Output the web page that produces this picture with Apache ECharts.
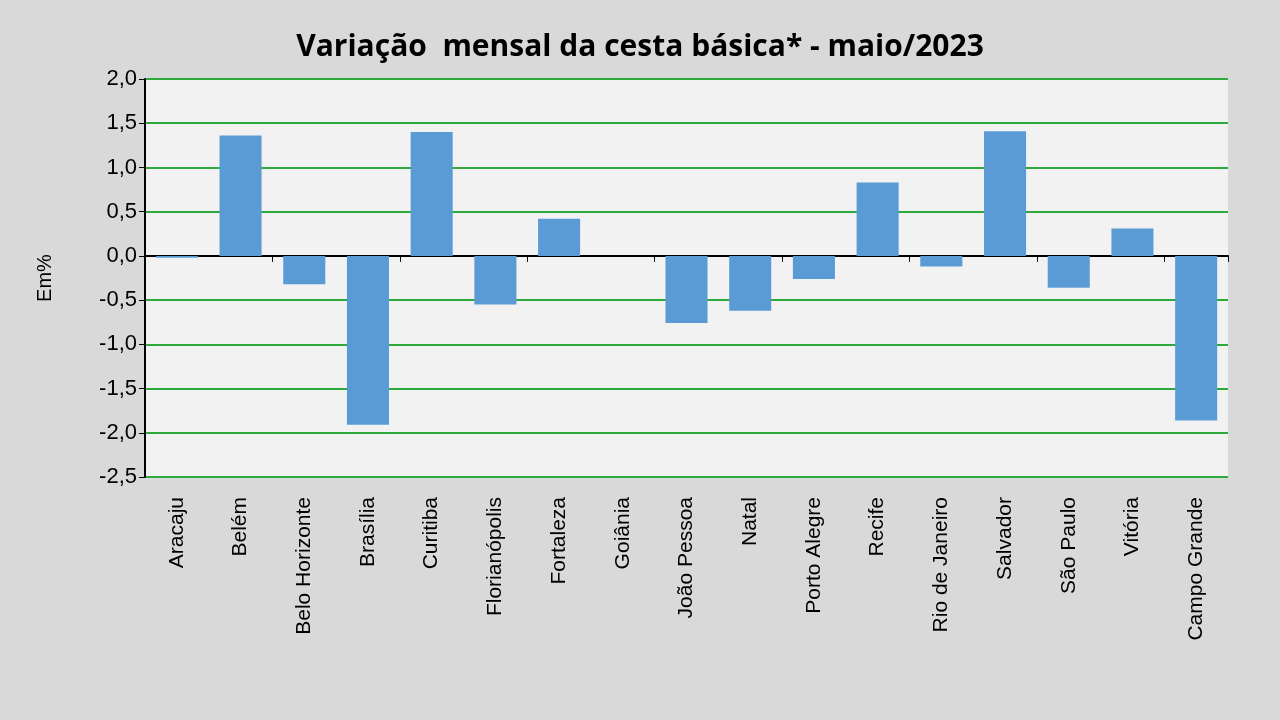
<!DOCTYPE html>
<html><head><meta charset="utf-8">
<script src="https://cdn.jsdelivr.net/npm/echarts@6/dist/echarts.min.js"></script>
<style>html,body{margin:0;background:#d9d9d9}#c{width:1280px;height:720px}</style>
</head><body><div id="c"></div>
<script>
const categories=["Aracaju","Belém","Belo Horizonte","Brasília","Curitiba","Florianópolis","Fortaleza","Goiânia","João Pessoa","Natal","Porto Alegre","Recife","Rio de Janeiro","Salvador","São Paulo","Vitória","Campo Grande"];
const values=[-0.02,1.36,-0.32,-1.91,1.40,-0.55,0.42,0,-0.76,-0.62,-0.26,0.83,-0.12,1.41,-0.36,0.31,-1.86];
const chart=echarts.init(document.getElementById('c'));
const font='"Liberation Sans", Arial, sans-serif';
chart.setOption({
 backgroundColor:'#d9d9d9',
 title:{text:'Variação  mensal da cesta básica* - maio/2023',left:'center',top:27,textStyle:{fontFamily:'"Open Sans", sans-serif',fontSize:30,fontWeight:'bold',color:'#000'}},
 grid:{left:145,right:52,top:79,bottom:243,show:true,backgroundColor:'#f2f2f2',borderWidth:0},
 xAxis:[
  {type:'category',data:categories,axisLine:{onZero:true,lineStyle:{color:'#000',width:2}},axisTick:{show:true,length:6,lineStyle:{color:'#000'}},axisLabel:{show:false}},
  {type:'category',data:categories,position:'bottom',axisLine:{onZero:false,show:false},axisTick:{show:false},
   axisLabel:{rotate:90,fontSize:21,color:'#000',fontFamily:font,margin:20}}
 ],
 yAxis:{type:'value',min:-2.5,max:2,interval:0.5,name:'Em%',nameLocation:'middle',nameGap:90,nameTextStyle:{fontSize:20,color:'#000',fontFamily:font},
  axisLine:{show:true,lineStyle:{color:'#000',width:2}},axisTick:{show:true,length:6,lineStyle:{color:'#000'}},
  axisLabel:{fontSize:22,color:'#000',fontFamily:font,formatter:v=>v.toFixed(1).replace('.',',')},
  splitLine:{lineStyle:{color:'#2eaa3c',width:2}}},
 series:[{type:'bar',data:values,xAxisIndex:0,barCategoryGap:'34%',itemStyle:{color:'#5b9bd5'}}]
});
</script></body></html>
